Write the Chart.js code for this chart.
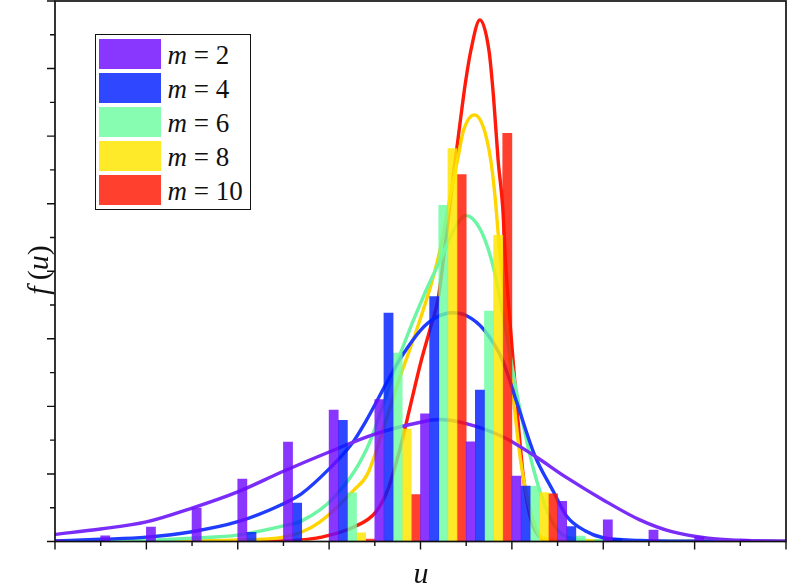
<!DOCTYPE html>
<html>
<head>
<meta charset="utf-8">
<script src="https://cdn.jsdelivr.net/npm/chart.js@4.4.1/dist/chart.umd.min.js"></script>
<style>
  html, body { margin: 0; padding: 0; background: #ffffff; }
  #wrap { position: relative; width: 787px; height: 587px; overflow: hidden; }
  #c { position: absolute; left: 0; top: 0; }
  .serif, .serif * { font-family: "Liberation Serif", "Times New Roman", Times, "DejaVu Serif", serif; color: #111; }
  #legend { position: absolute; left: 95px; top: 34px; width: 156px; height: 176px;
            box-sizing: border-box; border: 1.5px solid #111; background: #fff; }
  .sw { position: absolute; width: 62px; height: 30px; }
  .lt { position: absolute; font-size: 27px; line-height: 30px; white-space: nowrap; }
  #xtitle { position: absolute; left: 371px; top: 558px; width: 100px; height: 30px;
            text-align: center; font-size: 30px; line-height: 30px; font-style: italic; }
  #ytitle { position: absolute; left: -12px; top: 250px; width: 100px; height: 40px;
            text-align: center; font-size: 30px; line-height: 40px; transform: rotate(-90deg); }
</style>
</head>
<body>
<div id="wrap">
  <canvas id="c" width="787" height="587"></canvas>
  <div id="legend" class="serif"></div>
  <div id="xtitle" class="serif">u</div>
  <div id="ytitle" class="serif"><i>f</i>&#8201;(<i>u</i>)</div>
</div>
<script>
// ---------------- data ----------------
const mValues = [2, 4, 6, 8, 10];
const binCenters = [-3.75, -3.25, -2.75, -2.25, -1.75, -1.25, -0.75, -0.25,
                    0.25, 0.75, 1.25, 1.75, 2.25, 2.75, 3.25, 3.75];

// histogram heights f(u)
const barsM2  = [0.004, 0.017, 0.043, 0.099, 0.185, 0.294, 0.389, 0.420, 0.378, 0.295, 0.194, 0.119, 0.064, 0.034, 0.014, 0.0065];
const barsM4  = [0, 0, 0, 0, 0.027, 0.114, 0.359, 0.676, 0.725, 0.448, 0.164, 0.044, 0.009, 0, 0, 0];
const barsM6  = [0, 0, 0, 0, 0, 0.002, 0.144, 0.558, 0.995, 0.682, 0.163, 0.016, 0, 0, 0, 0];
const barsM8  = [0, 0, 0, 0, 0, 0, 0.026, 0.333, 1.163, 0.906, 0.145, 0.0065, 0, 0, 0, 0];
const barsM10 = [0, 0, 0, 0, 0, 0, 0.0068, 0.139, 1.086, 1.208, 0.141, 0, 0, 0, 0, 0];

// fitted curves (u, f)
const curveM2U  = [-4, -3.5, -3, -2.5, -2, -1.5, -1, -0.5, 0, 0.2, 0.5, 0.9, 1.25, 1.6, 2, 2.4, 2.75, 3.15, 3.5, 4];
const curveM2F  = [0.021, 0.037, 0.058, 0.099, 0.147, 0.208, 0.265, 0.318, 0.353, 0.361, 0.349, 0.310, 0.253, 0.189, 0.123, 0.064, 0.029, 0.0095, 0.0035, 0.0006];

const curveM4U  = [-4, -3.5, -3, -2.5, -2, -1.5, -1.3, -1, -0.75, -0.6, -0.35, -0.2, 0, 0.15, 0.35, 0.5, 0.7, 0.9, 1.05, 1.25, 1.45, 1.6, 1.8, 2, 2.4, 3, 4];
const curveM4F  = [0.0015, 0.0065, 0.013, 0.029, 0.0585, 0.112, 0.142, 0.215, 0.29, 0.355, 0.48, 0.55, 0.625, 0.66, 0.677, 0.669, 0.625, 0.535, 0.415, 0.255, 0.15, 0.075, 0.032, 0.011, 0.003, 0.0006, 0];

const curveM6U  = [-4, -3.5, -3, -2.5, -2, -1.5, -1.3, -0.95, -0.58, -0.22, 0.05, 0.22, 0.30, 0.38, 0.5, 0.65, 0.77, 0.84, 0.95, 1.06, 1.24, 1.42, 1.6, 2, 4];
const curveM6F  = [0, 0.0015, 0.003, 0.010, 0.019, 0.046, 0.061, 0.13, 0.279, 0.557, 0.737, 0.835, 0.885, 0.93, 0.965, 0.926, 0.84, 0.76, 0.60, 0.43, 0.211, 0.069, 0.014, 0.0015, 0];

const curveM8U  = [-4, -3, -2, -1.5, -1.3, -1.1, -0.73, -0.58, -0.36, -0.22, -0.05, 0.11, 0.18, 0.24, 0.33, 0.41, 0.47, 0.59, 0.69, 0.77, 0.82, 0.85, 0.92, 1.02, 1.10, 1.21, 1.32, 1.6, 4];
const curveM8F  = [0, 0.0006, 0.0044, 0.013, 0.028, 0.058, 0.152, 0.20, 0.374, 0.49, 0.62, 0.755, 0.825, 0.895, 1.030, 1.136, 1.216, 1.263, 1.225, 1.127, 1.009, 0.912, 0.714, 0.418, 0.232, 0.084, 0.013, 0, 0];

const curveM10U = [-4, -2, -1.5, -1.3, -1.1, -0.73, -0.49, -0.36, -0.22, -0.11, 0, 0.11, 0.19, 0.24, 0.31, 0.38, 0.44, 0.49, 0.55, 0.65, 0.75, 0.80, 0.85, 0.90, 0.93, 0.96, 1.06, 1.13, 1.21, 1.32, 1.46, 4];
const curveM10F = [0, 0, 0.0015, 0.0044, 0.012, 0.043, 0.087, 0.152, 0.279, 0.403, 0.527, 0.634, 0.714, 0.811, 0.971, 1.127, 1.254, 1.355, 1.452, 1.544, 1.452, 1.313, 1.127, 0.988, 0.832, 0.714, 0.380, 0.182, 0.0635, 0.010, 0, 0];

// axis ranges and tick steps
const uMin = -4, uMax = 4, uMajor = 1, uMinor = 0.5;
const fMin = 0, fMax = 1.6, fMajor = 0.2, fMinor = 0.1;

// ---------------- styles ----------------
const barColors  = ['rgba(111,11,255,0.82)', 'rgba(0,30,255,0.82)', 'rgba(109,252,161,0.82)', 'rgba(255,230,0,0.84)', 'rgba(255,22,0,0.82)'];
const lineColors = ['#7a2cf8', '#1f3cff', '#6cf5a2', '#ffd500', '#ff1a0a'];

const barSets   = [barsM2, barsM4, barsM6, barsM8, barsM10];
const curveUs   = [curveM2U, curveM4U, curveM6U, curveM8U, curveM10U];
const curveFs   = [curveM2F, curveM4F, curveM6F, curveM8F, curveM10F];

const datasets = [];
mValues.forEach((m, k) => {
  datasets.push({
    type: 'bar',
    label: 'm = ' + m,
    data: binCenters.map((u, i) => ({ x: u, y: barSets[k][i] })),
    backgroundColor: barColors[k],
    borderWidth: 0,
    barPercentage: 1.0,
    categoryPercentage: 1.0,
    order: 0
  });
});
mValues.forEach((m, k) => {
  datasets.push({
    type: 'line',
    label: 'fit m = ' + m,
    data: curveUs[k].map((u, i) => ({ x: u, y: curveFs[k][i] })),
    borderColor: lineColors[k],
    borderWidth: 3.4,
    pointRadius: 0,
    fill: false,
    cubicInterpolationMode: 'monotone',
    order: 1
  });
});

const framePlugin = {
  id: 'frame',
  afterDraw(chart) {
    const { ctx, chartArea: a, scales } = chart;
    const xs = scales.x, ys = scales.y;
    ctx.save();
    ctx.strokeStyle = '#111';
    ctx.lineWidth = 1.7;
    ctx.strokeRect(a.left, a.top, a.right - a.left, a.bottom - a.top);
    ctx.lineWidth = 1.4;
    ctx.beginPath();
    const nx = Math.round((uMax - uMin) / uMinor);
    for (let i = 0; i <= nx; i++) {
      const v = uMin + i * uMinor;
      const px = xs.getPixelForValue(v);
      const major = Math.abs(v / uMajor - Math.round(v / uMajor)) < 1e-6;
      ctx.moveTo(px, a.bottom);
      ctx.lineTo(px, a.bottom + (major ? 8 : 4.5));
    }
    const ny = Math.round((fMax - fMin) / fMinor);
    for (let i = 0; i <= ny; i++) {
      const v = fMin + i * fMinor;
      const py = ys.getPixelForValue(v);
      const major = i % Math.round(fMajor / fMinor) === 0;
      ctx.moveTo(a.left, py);
      ctx.lineTo(a.left - (major ? 8 : 5), py);
    }
    ctx.stroke();
    ctx.restore();
  }
};

new Chart(document.getElementById('c'), {
  type: 'bar',
  data: { datasets },
  options: {
    responsive: false,
    devicePixelRatio: 1,
    animation: false,
    layout: { padding: { left: 55, right: 1, top: 1, bottom: 45.5 } },
    plugins: { legend: { display: false }, tooltip: { enabled: false } },
    scales: {
      x: { type: 'linear', min: uMin, max: uMax, offset: false, display: false, grid: { display: false } },
      y: { type: 'linear', min: fMin, max: fMax, display: false, grid: { display: false } }
    }
  },
  plugins: [framePlugin]
});

// legend (HTML, from the data arrays)
const legend = document.getElementById('legend');
mValues.forEach((m, k) => {
  const top = 3.5 + k * 34.1;
  const sw = document.createElement('div');
  sw.className = 'sw';
  sw.style.left = '2.5px';
  sw.style.top = top + 'px';
  sw.style.background = barColors[k];
  legend.appendChild(sw);
  const t = document.createElement('div');
  t.className = 'lt';
  t.style.left = '71.5px';
  t.style.top = (top + 1) + 'px';
  t.innerHTML = '<i>m</i> = ' + m;
  legend.appendChild(t);
});
</script>
</body>
</html>
